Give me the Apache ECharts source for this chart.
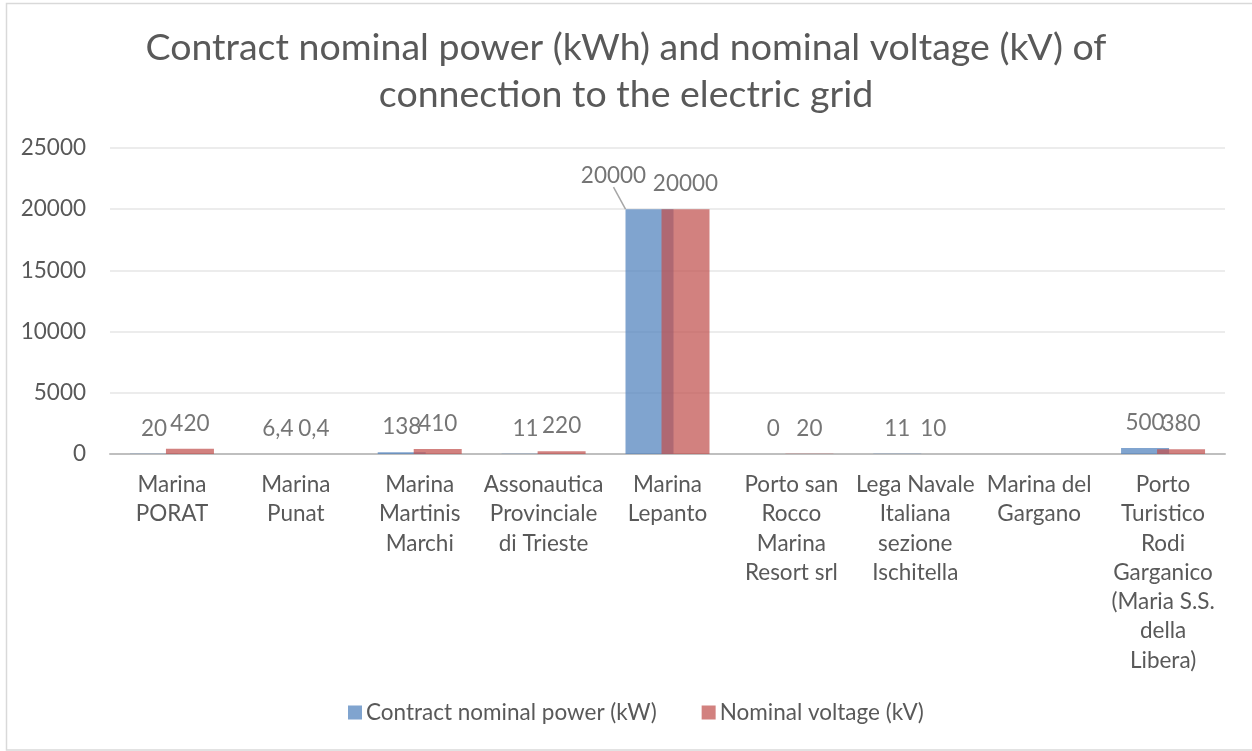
<!DOCTYPE html>
<html>
<head>
<meta charset="utf-8">
<script src="https://cdn.jsdelivr.net/npm/echarts@6/dist/echarts.min.js"></script>
<style>html,body{margin:0;padding:0;background:#fff}#c{width:1252px;height:751px}</style>
</head>
<body>
<div id="c"></div>
<script>
const categories = [
  'Marina\nPORAT', 'Marina\nPunat', 'Marina\nMartinis\nMarchi', 'Assonautica\nProvinciale\ndi Trieste',
  'Marina\nLepanto', 'Porto san\nRocco\nMarina\nResort srl', 'Lega Navale\nItaliana\nsezione\nIschitella',
  'Marina del\nGargano', 'Porto\nTuristico\nRodi\nGarganico\n(Maria S.S.\ndella\nLibera)'
];
const powerKW = [20, 6.4, 138, 11, 20000, 0, 11, null, 500];
const voltageKV = [420, 0.4, 410, 220, 20000, 20, 10, null, 380];
const yTicks = [0, 5000, 10000, 15000, 20000, 25000];

const FONT = 'Lato';
const TXT = '#595959';
const FS = 22.5;
const fmt = p => String(p.value).replace('.', ',');

// The Lepanto power label is pulled aside with a leader line, as in the original.
const powerData = powerKW.map((v, i) => i === 4
  ? { value: v, labelLine: { show: true, lineStyle: { color: '#a6a6a6', width: 1.5 } } }
  : v);

const chart = echarts.init(document.getElementById('c'));
chart.setOption({
  animation: false,
  textStyle: { fontFamily: FONT },
  title: {
    text: 'Contract nominal power (kWh) and nominal voltage (kV) of\nconnection to the electric grid',
    left: 'center', top: 19,
    textStyle: { fontFamily: FONT, fontSize: 37.5, fontWeight: 'normal', color: TXT, lineHeight: 47 }
  },
  graphic: [{
    type: 'rect', shape: { x: 6.5, y: 3.5, width: 1260, height: 746.5 },
    style: { fill: 'none', stroke: '#d9d9d9', lineWidth: 1.5 }, silent: true, z: -1
  }],
  legend: {
    bottom: 22, left: 343, itemWidth: 14, itemHeight: 14, itemGap: 45,
    icon: 'rect',
    textStyle: { fontFamily: FONT, fontSize: FS, color: TXT, padding: [0, 0, 0, -1] },
    data: ['Contract nominal power (kW)', 'Nominal voltage (kV)']
  },
  grid: { left: 110, right: 27, top: 148, bottom: 297, containLabel: false },
  xAxis: {
    type: 'category', data: categories,
    axisLine: { lineStyle: { color: '#bfbfbf', width: 2 } },
    axisTick: { show: false },
    axisLabel: { interval: 0, fontFamily: FONT, fontSize: FS, color: TXT, lineHeight: 29.3, margin: 16 }
  },
  yAxis: {
    type: 'value', min: yTicks[0], max: yTicks[yTicks.length - 1], interval: 5000,
    axisLine: { show: false }, axisTick: { show: false },
    splitLine: { lineStyle: { color: '#e6e6e6', width: 1.5 } },
    axisLabel: { fontFamily: FONT, fontSize: FS, color: TXT, margin: 24, formatter: v => String(v) }
  },
  series: [
    {
      name: 'Contract nominal power (kW)', type: 'bar', data: powerData,
      barWidth: 48, barGap: '-25%',
      itemStyle: { color: '#4F81BD', opacity: 0.72 },
      label: { show: true, position: 'top', distance: 14, fontFamily: FONT, fontSize: FS, color: '#404040', formatter: fmt },
      labelLayout: function (p) { if (p.dataIndex === 4) return { dx: -36, dy: -8 }; return {}; },
      labelLine: { show: false }
    },
    {
      name: 'Nominal voltage (kV)', type: 'bar', data: voltageKV,
      barWidth: 48,
      itemStyle: { color: '#C0504D', opacity: 0.72 },
      label: { show: true, position: 'top', distance: 14, fontFamily: FONT, fontSize: FS, color: '#404040', formatter: fmt }
    }
  ]
});
</script>
</body>
</html>
